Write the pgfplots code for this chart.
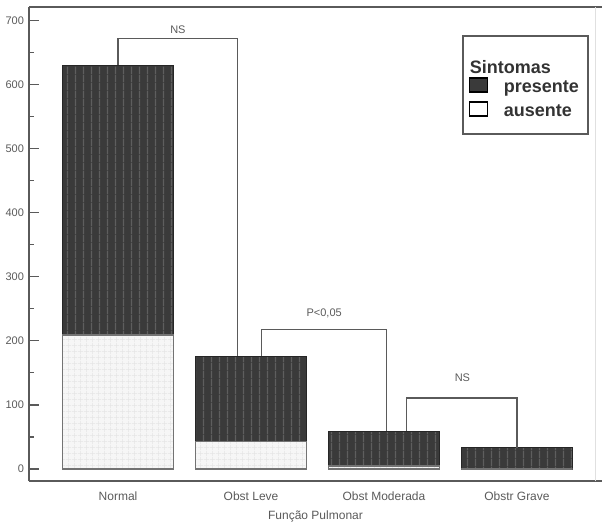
\documentclass[border=0pt]{standalone}
\usepackage{fontspec}
\setmainfont{Liberation Sans}
\usepackage{pgfplots}
\pgfplotsset{compat=1.18}
\usetikzlibrary{patterns}
\pgfdeclarepatternformonly{vstripes}{\pgfqpoint{0pt}{0pt}}{\pgfqpoint{4pt}{4pt}}{\pgfqpoint{4pt}{4pt}}{%
  \pgfsetlinewidth{0.7pt}%
  \pgfpathmoveto{\pgfqpoint{2pt}{-0.1pt}}\pgfpathlineto{\pgfqpoint{2pt}{4.1pt}}\pgfusepath{stroke}}
\pgfdeclarepatternformonly{fgrid}{\pgfqpoint{0pt}{0pt}}{\pgfqpoint{3pt}{3pt}}{\pgfqpoint{3pt}{3pt}}{%
  \pgfsetlinewidth{0.3pt}%
  \pgfpathmoveto{\pgfqpoint{1.5pt}{0pt}}\pgfpathlineto{\pgfqpoint{1.5pt}{3pt}}%
  \pgfpathmoveto{\pgfqpoint{0pt}{1.5pt}}\pgfpathlineto{\pgfqpoint{3pt}{1.5pt}}\pgfusepath{stroke}}
\definecolor{darkbar}{HTML}{3A3A3A}
\definecolor{stripe}{HTML}{5E5E5E}
\definecolor{lightbar}{HTML}{F6F6F6}
\definecolor{axgray}{HTML}{5A5A5A}
\begin{document}
\begin{tikzpicture}
\useasboundingbox (-14.5pt,-20pt) rectangle (287pt,240.5pt);
\begin{axis}[
  at={(0,0)}, anchor=south west,
  scale only axis, width=286.5pt, height=237pt,
  xmin=-0.67, xmax=3.64, ymin=-18.7, ymax=720.7,
  axis lines=left, axis line style={-, line width=1.1pt, axgray},
  xtick={0,1,2,3},
  xticklabels={Normal, Obst Leve, Obst Moderada, Obstr Grave},
  major x tick style={draw=none},
  ytick={0,100,...,700}, minor ytick={50,150,...,650},
  tick align=inside, major tick length=5pt, minor tick length=2.5pt,
  every tick/.style={line width=0.6pt, axgray},
  yticklabel style={font=\fontsize{5.5}{6}\selectfont, text=axgray, xshift=1pt},
  xticklabel style={font=\fontsize{6}{7}\selectfont, text=axgray, yshift=-2pt},
  /pgf/number format/assume math mode=true,
  xlabel={Função Pulmonar},
  xlabel style={font=\fontsize{6}{7}\selectfont, text=axgray, yshift=2pt},
  clip=false,
  legend style={at={(0.756,0.941)}, anchor=north west, draw=axgray, line width=1pt,
    font=\bfseries\fontsize{9}{10}\selectfont, text=black!80,
    inner xsep=3pt, inner ysep=7pt, row sep=1pt,
    nodes={inner sep=1.5pt, text height=6pt, text depth=2pt}},
  legend cell align=left,
  legend image code/.code={\draw[#1, line width=0.6pt] (0pt,-3.5pt) rectangle (9pt,3.5pt); \path (15pt,0pt);},
]
\addplot[ybar, bar width=0.835, bar shift=0pt, draw=black!85, line width=0.6pt,
  fill=darkbar, postaction={pattern=vstripes, pattern color=stripe}, forget plot]
  coordinates {(0,630) (1,176) (2,59) (3,33)};
\addplot[ybar, bar width=0.835, bar shift=0pt, draw=black!55, line width=0.7pt,
  fill=lightbar, postaction={pattern=fgrid, pattern color=black!10}, forget plot]
  coordinates {(0,209) (1,43) (2,5) (3,0)};
% significance brackets
\addplot[sharp plot, no markers, axgray, line width=0.7pt, forget plot]
  coordinates {(0,630) (0,672) (0.90,672) (0.90,176)};
\addplot[sharp plot, no markers, axgray, line width=0.7pt, forget plot]
  coordinates {(1.08,176) (1.08,218) (2.02,218) (2.02,59)};
\addplot[sharp plot, no markers, axgray, line width=0.7pt, forget plot]
  coordinates {(2.17,59) (2.17,111) (3.0,111) (3.0,33)};
\node[font=\fontsize{5.5}{6}\selectfont, text=axgray] at (axis cs:0.45,685) {NS};
\node[font=\fontsize{5.5}{6}\selectfont, text=axgray] at (axis cs:1.55,243) {P<0,05};
\node[font=\fontsize{5.5}{6}\selectfont, text=axgray] at (axis cs:2.59,143) {NS};
% frame: top line and faint right line
\draw[line width=1.1pt, axgray] (rel axis cs:0,1) -- (rel axis cs:1,1);
\draw[line width=0.4pt, black!12] (rel axis cs:0.988,0) -- (rel axis cs:0.988,1);
% legend
\addlegendimage{empty legend}
\addlegendentry{\hspace*{-17pt}\raisebox{-4.5pt}[6pt][2pt]{Sintomas}}
\addlegendimage{draw=black, fill=darkbar}
\addlegendentry{\raisebox{-2pt}[6pt][2pt]{presente}}
\addlegendimage{draw=black, fill=white}
\addlegendentry{\raisebox{-2pt}[6pt][2pt]{ausente}}
\end{axis}
\end{tikzpicture}
\end{document}
